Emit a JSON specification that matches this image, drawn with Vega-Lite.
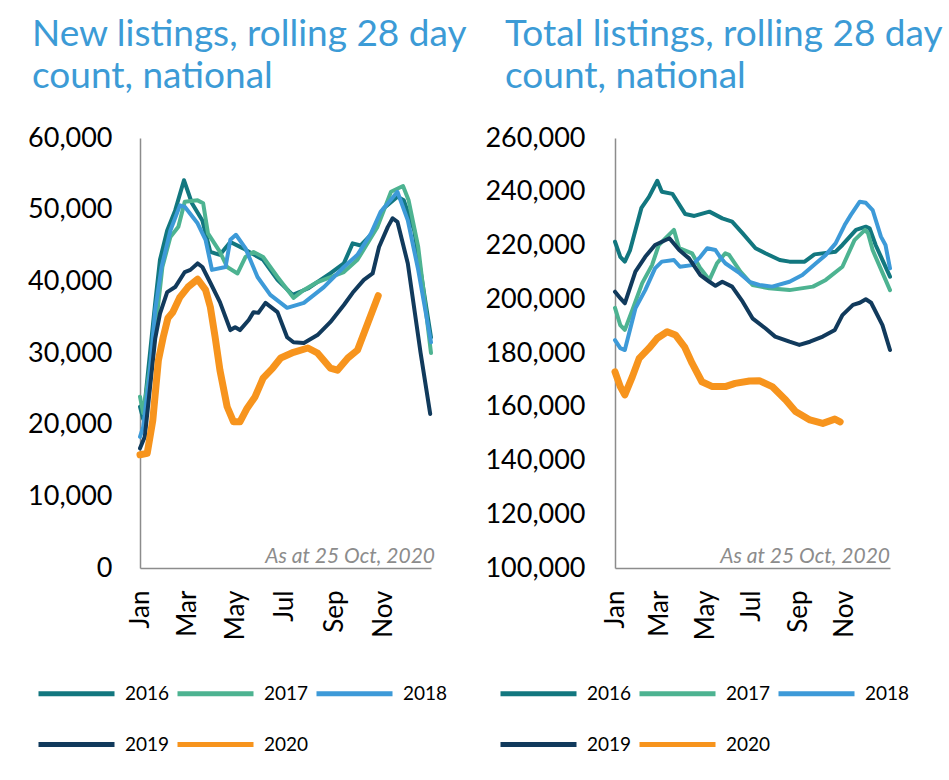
{
  "$schema": "https://vega.github.io/schema/vega-lite/v6.json",
  "padding": {"left": 27, "top": 16, "right": 0, "bottom": 0},
  "background": "white",
  "config": {
    "view": {"stroke": null},
    "font": "Lato",
    "title": {"font": "Lato", "fontSize": 37, "fontWeight": "normal", "color": "#3C9BD6", "anchor": "start", "frame": "group", "lineHeight": 42, "offset": 28},
    "axis": {"ticks": false, "grid": false, "domainColor": "#8c8c8c", "domainWidth": 1.5, "labelColor": "#000000", "labelFontSize": 26, "title": null, "labelFont": "Lato"},
    "axisY": {"labelFontSize": 27},
    "legend": {"symbolType": "stroke", "symbolSize": 5776, "symbolStrokeWidth": 5, "columns": 3, "direction": "horizontal", "labelFontSize": 19, "labelOffset": 8, "columnPadding": -3, "rowPadding": -2, "title": null, "labelColor": "#000000", "labelFont": "Lato"}
  },
  "datasets": {
    "newl": [
      {"year":2016,"day":0,"value":22500},{"year":2016,"day":4,"value":20800},{"year":2016,"day":19,"value":37000},{"year":2016,"day":25,"value":43000},{"year":2016,"day":34,"value":47100},{"year":2016,"day":44,"value":49900},{"year":2016,"day":55,"value":54100},{"year":2016,"day":65,"value":50900},{"year":2016,"day":78,"value":48500},{"year":2016,"day":88,"value":44100},{"year":2016,"day":100,"value":43700},{"year":2016,"day":113,"value":45500},{"year":2016,"day":129,"value":44600},{"year":2016,"day":154,"value":43000},{"year":2016,"day":172,"value":40200},{"year":2016,"day":191,"value":38100},{"year":2016,"day":210,"value":39000},{"year":2016,"day":238,"value":41100},{"year":2016,"day":255,"value":42500},{"year":2016,"day":266,"value":45300},{"year":2016,"day":276,"value":45000},{"year":2016,"day":289,"value":46500},{"year":2016,"day":305,"value":50200},{"year":2016,"day":322,"value":51800},{"year":2016,"day":330,"value":51300},{"year":2016,"day":343,"value":47100},{"year":2016,"day":364,"value":32200},
      {"year":2017,"day":0,"value":23900},{"year":2017,"day":4,"value":21600},{"year":2017,"day":19,"value":33000},{"year":2017,"day":28,"value":42000},{"year":2017,"day":38,"value":46200},{"year":2017,"day":48,"value":47600},{"year":2017,"day":56,"value":51100},{"year":2017,"day":72,"value":51300},{"year":2017,"day":79,"value":50900},{"year":2017,"day":85,"value":46700},{"year":2017,"day":100,"value":44100},{"year":2017,"day":109,"value":42000},{"year":2017,"day":122,"value":41100},{"year":2017,"day":132,"value":43400},{"year":2017,"day":142,"value":44100},{"year":2017,"day":154,"value":43400},{"year":2017,"day":172,"value":40600},{"year":2017,"day":192,"value":37700},{"year":2017,"day":205,"value":38800},{"year":2017,"day":222,"value":39900},{"year":2017,"day":255,"value":41300},{"year":2017,"day":272,"value":43000},{"year":2017,"day":297,"value":47600},{"year":2017,"day":314,"value":52500},{"year":2017,"day":329,"value":53300},{"year":2017,"day":336,"value":51300},{"year":2017,"day":348,"value":44800},{"year":2017,"day":364,"value":30000},
      {"year":2018,"day":0,"value":18300},{"year":2018,"day":4,"value":19700},{"year":2018,"day":12,"value":27000},{"year":2018,"day":19,"value":36000},{"year":2018,"day":27,"value":42000},{"year":2018,"day":38,"value":47100},{"year":2018,"day":50,"value":50600},{"year":2018,"day":56,"value":50400},{"year":2018,"day":72,"value":48100},{"year":2018,"day":82,"value":45800},{"year":2018,"day":90,"value":41600},{"year":2018,"day":107,"value":42000},{"year":2018,"day":113,"value":45800},{"year":2018,"day":120,"value":46500},{"year":2018,"day":132,"value":44600},{"year":2018,"day":147,"value":40600},{"year":2018,"day":163,"value":38100},{"year":2018,"day":184,"value":36300},{"year":2018,"day":205,"value":37000},{"year":2018,"day":230,"value":39200},{"year":2018,"day":255,"value":42000},{"year":2018,"day":272,"value":43700},{"year":2018,"day":289,"value":46700},{"year":2018,"day":301,"value":49700},{"year":2018,"day":317,"value":51800},{"year":2018,"day":322,"value":52500},{"year":2018,"day":335,"value":48500},{"year":2018,"day":348,"value":41600},{"year":2018,"day":364,"value":31500},
      {"year":2019,"day":0,"value":16700},{"year":2019,"day":6,"value":18300},{"year":2019,"day":19,"value":32000},{"year":2019,"day":25,"value":35500},{"year":2019,"day":34,"value":38500},{"year":2019,"day":44,"value":39200},{"year":2019,"day":56,"value":41300},{"year":2019,"day":63,"value":41600},{"year":2019,"day":72,"value":42500},{"year":2019,"day":78,"value":42000},{"year":2019,"day":88,"value":39800},{"year":2019,"day":100,"value":37100},{"year":2019,"day":113,"value":33200},{"year":2019,"day":119,"value":33600},{"year":2019,"day":125,"value":33200},{"year":2019,"day":136,"value":34600},{"year":2019,"day":142,"value":35700},{"year":2019,"day":148,"value":35600},{"year":2019,"day":157,"value":37000},{"year":2019,"day":172,"value":35700},{"year":2019,"day":184,"value":32200},{"year":2019,"day":192,"value":31500},{"year":2019,"day":205,"value":31400},{"year":2019,"day":222,"value":32500},{"year":2019,"day":238,"value":34300},{"year":2019,"day":255,"value":36700},{"year":2019,"day":266,"value":38400},{"year":2019,"day":280,"value":40200},{"year":2019,"day":291,"value":41100},{"year":2019,"day":299,"value":44800},{"year":2019,"day":310,"value":47600},{"year":2019,"day":316,"value":48800},{"year":2019,"day":322,"value":48300},{"year":2019,"day":335,"value":42500},{"year":2019,"day":351,"value":30000},{"year":2019,"day":363,"value":21500},
      {"year":2020,"day":0,"value":15800},{"year":2020,"day":9,"value":16000},{"year":2020,"day":16,"value":20600},{"year":2020,"day":23,"value":29000},{"year":2020,"day":29,"value":32200},{"year":2020,"day":35,"value":34900},{"year":2020,"day":41,"value":35700},{"year":2020,"day":50,"value":37800},{"year":2020,"day":60,"value":39200},{"year":2020,"day":72,"value":40300},{"year":2020,"day":82,"value":38800},{"year":2020,"day":88,"value":36400},{"year":2020,"day":94,"value":32200},{"year":2020,"day":100,"value":27600},{"year":2020,"day":109,"value":22500},{"year":2020,"day":117,"value":20400},{"year":2020,"day":125,"value":20400},{"year":2020,"day":134,"value":22300},{"year":2020,"day":144,"value":23900},{"year":2020,"day":154,"value":26500},{"year":2020,"day":166,"value":27900},{"year":2020,"day":176,"value":29300},{"year":2020,"day":192,"value":30100},{"year":2020,"day":210,"value":30700},{"year":2020,"day":222,"value":30000},{"year":2020,"day":238,"value":27900},{"year":2020,"day":247,"value":27600},{"year":2020,"day":260,"value":29300},{"year":2020,"day":272,"value":30400},{"year":2020,"day":285,"value":34200},{"year":2020,"day":298,"value":38000}
    ],
    "total": [
      {"year":2016,"day":0,"value":221400},{"year":2016,"day":7,"value":215800},{"year":2016,"day":13,"value":214000},{"year":2016,"day":20,"value":218300},{"year":2016,"day":35,"value":234000},{"year":2016,"day":45,"value":238100},{"year":2016,"day":56,"value":244100},{"year":2016,"day":62,"value":240000},{"year":2016,"day":76,"value":239200},{"year":2016,"day":93,"value":231700},{"year":2016,"day":105,"value":231000},{"year":2016,"day":125,"value":232600},{"year":2016,"day":142,"value":230100},{"year":2016,"day":155,"value":228900},{"year":2016,"day":169,"value":224500},{"year":2016,"day":186,"value":219000},{"year":2016,"day":199,"value":217100},{"year":2016,"day":218,"value":214600},{"year":2016,"day":231,"value":214000},{"year":2016,"day":251,"value":214000},{"year":2016,"day":264,"value":216700},{"year":2016,"day":292,"value":217700},{"year":2016,"day":301,"value":220200},{"year":2016,"day":319,"value":225800},{"year":2016,"day":332,"value":227000},{"year":2016,"day":337,"value":226400},{"year":2016,"day":345,"value":220200},{"year":2016,"day":364,"value":208400},
      {"year":2017,"day":0,"value":196800},{"year":2017,"day":7,"value":190400},{"year":2017,"day":13,"value":188600},{"year":2017,"day":23,"value":196000},{"year":2017,"day":36,"value":206000},{"year":2017,"day":49,"value":212700},{"year":2017,"day":58,"value":220200},{"year":2017,"day":78,"value":225800},{"year":2017,"day":85,"value":219000},{"year":2017,"day":102,"value":217100},{"year":2017,"day":113,"value":211500},{"year":2017,"day":125,"value":207200},{"year":2017,"day":135,"value":213400},{"year":2017,"day":146,"value":217100},{"year":2017,"day":151,"value":216500},{"year":2017,"day":166,"value":210300},{"year":2017,"day":182,"value":205300},{"year":2017,"day":204,"value":204100},{"year":2017,"day":231,"value":203400},{"year":2017,"day":262,"value":204700},{"year":2017,"day":279,"value":207200},{"year":2017,"day":301,"value":212100},{"year":2017,"day":317,"value":222000},{"year":2017,"day":331,"value":225800},{"year":2017,"day":335,"value":224500},{"year":2017,"day":341,"value":218300},{"year":2017,"day":364,"value":203400},
      {"year":2018,"day":0,"value":184800},{"year":2018,"day":7,"value":181800},{"year":2018,"day":13,"value":181100},{"year":2018,"day":27,"value":196600},{"year":2018,"day":40,"value":203400},{"year":2018,"day":53,"value":211500},{"year":2018,"day":62,"value":214000},{"year":2018,"day":78,"value":214600},{"year":2018,"day":86,"value":212100},{"year":2018,"day":102,"value":212700},{"year":2018,"day":113,"value":215800},{"year":2018,"day":122,"value":219000},{"year":2018,"day":133,"value":218300},{"year":2018,"day":139,"value":215800},{"year":2018,"day":146,"value":213400},{"year":2018,"day":165,"value":209700},{"year":2018,"day":178,"value":206500},{"year":2018,"day":191,"value":205300},{"year":2018,"day":208,"value":204700},{"year":2018,"day":231,"value":206500},{"year":2018,"day":248,"value":209000},{"year":2018,"day":266,"value":213400},{"year":2018,"day":279,"value":216500},{"year":2018,"day":292,"value":220800},{"year":2018,"day":304,"value":227600},{"year":2018,"day":312,"value":231300},{"year":2018,"day":324,"value":236300},{"year":2018,"day":332,"value":235900},{"year":2018,"day":341,"value":233200},{"year":2018,"day":352,"value":223300},{"year":2018,"day":358,"value":220200},{"year":2018,"day":364,"value":211500},
      {"year":2019,"day":0,"value":202800},{"year":2019,"day":7,"value":200400},{"year":2019,"day":13,"value":198500},{"year":2019,"day":27,"value":210300},{"year":2019,"day":40,"value":215800},{"year":2019,"day":53,"value":220200},{"year":2019,"day":72,"value":222700},{"year":2019,"day":85,"value":218300},{"year":2019,"day":98,"value":215200},{"year":2019,"day":113,"value":209000},{"year":2019,"day":125,"value":206500},{"year":2019,"day":133,"value":205000},{"year":2019,"day":142,"value":206500},{"year":2019,"day":155,"value":204700},{"year":2019,"day":169,"value":199100},{"year":2019,"day":182,"value":192900},{"year":2019,"day":199,"value":189200},{"year":2019,"day":212,"value":186100},{"year":2019,"day":231,"value":184200},{"year":2019,"day":244,"value":183000},{"year":2019,"day":258,"value":184200},{"year":2019,"day":275,"value":186100},{"year":2019,"day":291,"value":188600},{"year":2019,"day":301,"value":194100},{"year":2019,"day":315,"value":197900},{"year":2019,"day":324,"value":198700},{"year":2019,"day":332,"value":200000},{"year":2019,"day":339,"value":198700},{"year":2019,"day":354,"value":190400},{"year":2019,"day":364,"value":181100},
      {"year":2020,"day":0,"value":173000},{"year":2020,"day":7,"value":167500},{"year":2020,"day":13,"value":164400},{"year":2020,"day":23,"value":171200},{"year":2020,"day":32,"value":178000},{"year":2020,"day":45,"value":181800},{"year":2020,"day":56,"value":185500},{"year":2020,"day":69,"value":187900},{"year":2020,"day":80,"value":186700},{"year":2020,"day":92,"value":182300},{"year":2020,"day":102,"value":176200},{"year":2020,"day":115,"value":169300},{"year":2020,"day":129,"value":167500},{"year":2020,"day":146,"value":167500},{"year":2020,"day":159,"value":168700},{"year":2020,"day":178,"value":169600},{"year":2020,"day":191,"value":169700},{"year":2020,"day":208,"value":167500},{"year":2020,"day":226,"value":162500},{"year":2020,"day":239,"value":158200},{"year":2020,"day":258,"value":155100},{"year":2020,"day":275,"value":153800},{"year":2020,"day":291,"value":155400},{"year":2020,"day":298,"value":154400}
    ],
    "note": [{"note": "As at 25 Oct, 2020"}]
  },
  "resolve": {"scale": {"color": "independent", "strokeWidth": "independent"}},
  "spacing": 16,
  "hconcat": [
    {
      "width": 291,
      "height": 430,
      "title": {"text": ["New listings, rolling 28 day", "count, national"], "dx": -108},
      "layer": [
        {
          "data": {"name": "newl"},
          "mark": {"type": "line", "strokeCap": "round", "strokeJoin": "round"},
          "encoding": {
            "x": {"field": "day", "type": "quantitative", "scale": {"domain": [0, 364], "nice": false, "zero": false},
                  "axis": {"values": [0, 59, 120, 181, 243, 304], "labelExpr": "timeFormat(datetime(2019, 0, 1 + datum.value), '%b')", "labelAngle": 270, "labelPadding": 22, "labelFlush": false, "labelOverlap": false}},
            "y": {"field": "value", "type": "quantitative", "scale": {"domain": [0, 60000], "nice": false},
                  "axis": {"values": [0, 10000, 20000, 30000, 40000, 50000, 60000], "format": ",.0f", "labelPadding": 28}},
            "color": {"field": "year", "type": "nominal", "scale": {"domain": [2016, 2017, 2018, 2019, 2020], "range": ["#12777F", "#4DB391", "#3D9AD8", "#113A5C", "#F7941D"]},
                      "legend": {"orient": "none", "legendX": -104, "legendY": 515}},
            "strokeWidth": {"field": "year", "type": "quantitative", "scale": {"type": "threshold", "domain": [2019.5], "range": [4, 7]}, "legend": null}
          }
        },
        {
          "data": {"name": "note"},
          "mark": {"type": "text", "align": "right", "baseline": "alphabetic", "fontStyle": "italic", "fontSize": 21, "color": "#8c8c8c", "dx": 4, "dy": -5},
          "encoding": {
            "x": {"datum": 364, "type": "quantitative"},
            "y": {"datum": 0, "type": "quantitative"},
            "text": {"field": "note"}
          }
        }
      ]
    },
    {
      "width": 275,
      "height": 430,
      "title": {"text": ["Total listings, rolling 28 day", "count, national"], "dx": -110},
      "layer": [
        {
          "data": {"name": "total"},
          "mark": {"type": "line", "strokeCap": "round", "strokeJoin": "round"},
          "encoding": {
            "x": {"field": "day", "type": "quantitative", "scale": {"domain": [0, 364], "nice": false, "zero": false},
                  "axis": {"values": [0, 59, 120, 181, 243, 304], "labelExpr": "timeFormat(datetime(2019, 0, 1 + datum.value), '%b')", "labelAngle": 270, "labelPadding": 22, "labelFlush": false, "labelOverlap": false}},
            "y": {"field": "value", "type": "quantitative", "scale": {"domain": [100000, 260000], "nice": false, "zero": false},
                  "axis": {"values": [100000, 120000, 140000, 160000, 180000, 200000, 220000, 240000, 260000], "format": ",.0f", "labelPadding": 30}},
            "color": {"field": "year", "type": "nominal", "scale": {"domain": [2016, 2017, 2018, 2019, 2020], "range": ["#12777F", "#4DB391", "#3D9AD8", "#113A5C", "#F7941D"]},
                      "legend": {"orient": "none", "legendX": -117, "legendY": 515}},
            "strokeWidth": {"field": "year", "type": "quantitative", "scale": {"type": "threshold", "domain": [2019.5], "range": [4, 7]}, "legend": null}
          }
        },
        {
          "data": {"name": "note"},
          "mark": {"type": "text", "align": "right", "baseline": "alphabetic", "fontStyle": "italic", "fontSize": 21, "color": "#8c8c8c", "dx": 0, "dy": -5},
          "encoding": {
            "x": {"datum": 364, "type": "quantitative"},
            "y": {"datum": 100000, "type": "quantitative"},
            "text": {"field": "note"}
          }
        }
      ]
    }
  ]
}
